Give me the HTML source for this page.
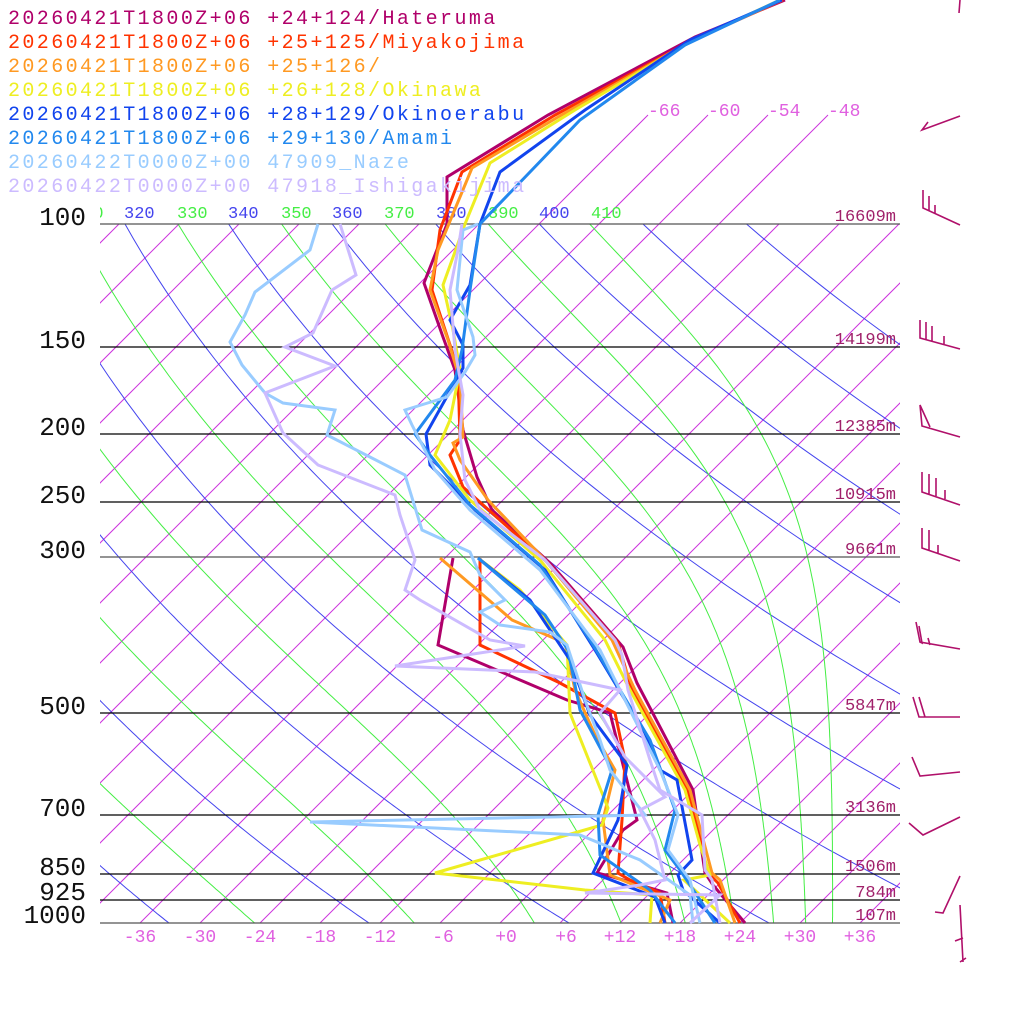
<!DOCTYPE html>
<html><head><meta charset="utf-8"><style>
html,body{margin:0;padding:0;background:#fff;}
svg{display:block;}
text{font-family:"Liberation Mono","DejaVu Sans Mono",monospace;}
</style></head><body>
<svg id="s" xmlns="http://www.w3.org/2000/svg" width="1024" height="1024" viewBox="0 0 1024 1024">
<defs><clipPath id="c"><rect x="100" y="224" width="800" height="699"/></clipPath>
<clipPath id="ct"><rect x="100" y="195" width="800" height="30"/></clipPath></defs>
<rect width="1024" height="1024" fill="#fff"/>
<g id="grid" clip-path="url(#c)"></g>
<g id="gridtop"></g>
<g fill="none" stroke-width="1.3">
<line x1="100" y1="224" x2="900" y2="224" stroke="#555"/>
<line x1="100" y1="347" x2="900" y2="347" stroke="#000"/>
<line x1="100" y1="434" x2="900" y2="434" stroke="#000"/>
<line x1="100" y1="502" x2="900" y2="502" stroke="#000"/>
<line x1="100" y1="557" x2="900" y2="557" stroke="#555"/>
<line x1="100" y1="713" x2="900" y2="713" stroke="#000"/>
<line x1="100" y1="815" x2="900" y2="815" stroke="#000"/>
<line x1="100" y1="874" x2="900" y2="874" stroke="#000"/>
<line x1="100" y1="900" x2="900" y2="900" stroke="#000"/>
<line x1="100" y1="923" x2="900" y2="923" stroke="#555"/>
</g>
<g font-size="17" clip-path="url(#ct)">
<text x="73" y="218" fill="#44ee44">310</text>
<text x="124" y="218" fill="#4444ee">320</text>
<text x="177" y="218" fill="#44ee44">330</text>
<text x="228" y="218" fill="#4444ee">340</text>
<text x="281" y="218" fill="#44ee44">350</text>
<text x="332" y="218" fill="#4444ee">360</text>
<text x="384" y="218" fill="#44ee44">370</text>
<text x="436" y="218" fill="#4444ee">380</text>
<text x="488" y="218" fill="#44ee44">390</text>
<text x="539" y="218" fill="#4444ee">400</text>
<text x="591" y="218" fill="#44ee44">410</text>
</g>
<g font-size="18" fill="#e060e0">
<text x="648" y="116">-66</text><text x="708" y="116">-60</text><text x="768" y="116">-54</text><text x="828" y="116">-48</text>
</g>
<g font-size="18" fill="#e060e0" text-anchor="middle">
<text x="140" y="942">-36</text><text x="200" y="942">-30</text><text x="260" y="942">-24</text><text x="320" y="942">-18</text>
<text x="380" y="942">-12</text><text x="443" y="942">-6</text><text x="506" y="942">+0</text><text x="566" y="942">+6</text>
<text x="620" y="942">+12</text><text x="680" y="942">+18</text><text x="740" y="942">+24</text><text x="800" y="942">+30</text><text x="860" y="942">+36</text>
</g>
<g font-size="17" fill="#a0206a" text-anchor="end">
<text x="896" y="221">16609m</text><text x="896" y="344">14199m</text><text x="896" y="431">12385m</text>
<text x="896" y="499">10915m</text><text x="896" y="554">9661m</text><text x="896" y="710">5847m</text>
<text x="896" y="812">3136m</text><text x="896" y="871">1506m</text><text x="896" y="897">784m</text><text x="896" y="920">107m</text>
</g>
<g font-size="26" fill="#111" text-anchor="end">
<text x="86" y="225">100</text><text x="86" y="348">150</text><text x="86" y="435">200</text><text x="86" y="503">250</text>
<text x="86" y="558">300</text><text x="86" y="714">500</text><text x="86" y="816">700</text><text x="86" y="875">850</text>
<text x="86" y="900">925</text><text x="86" y="923">1000</text>
</g>
<g id="prof" fill="none" stroke-width="3" stroke-linejoin="miter"></g>
<g font-size="20" letter-spacing="2.4">
<text x="8" y="24" fill="#b0006a">20260421T1800Z+06 +24+124/Hateruma</text>
<text x="8" y="48" fill="#ff3300">20260421T1800Z+06 +25+125/Miyakojima</text>
<text x="8" y="72" fill="#ff9922">20260421T1800Z+06 +25+126/</text>
<text x="8" y="96" fill="#eeee22">20260421T1800Z+06 +26+128/Okinawa</text>
<text x="8" y="120" fill="#1144ee">20260421T1800Z+06 +28+129/Okinoerabu</text>
<text x="8" y="144" fill="#2288ee">20260421T1800Z+06 +29+130/Amami</text>
<text x="8" y="168" fill="#99ccff">20260422T0000Z+00 47909_Naze</text>
<text x="8" y="192" fill="#ccbbff">20260422T0000Z+00 47918_Ishigakijima</text>
</g>
<g fill="none" stroke="#b0106a" stroke-width="1.6">
<path d="M960,0 L959,13"/>
<path d="M960,116 L922,130 L928,122"/>
<path d="M960,225 L923,208 L923,190 M929,211 L929,196 M935,213 L935,205"/>
<path d="M960,349 L920,338 L920,320 M926,340 L926,322 M932,342 L932,326 M944,345 L944,336"/>
<path d="M960,437 L922,426 L920,405 L930,427"/>
<path d="M960,505 L922,492 L922,472 M929,494 L929,474 M936,496 L936,478 M945,499 L945,490"/>
<path d="M960,561 L922,548 L922,528 M929,550 L929,530 M938,553 L938,545"/>
<path d="M960,649 L920,642 L916,622 M920,642 L922,643 L919,626 M930,645 L928,638"/>
<path d="M960,717 L919,717 L913,697 M925,717 L919,697"/>
<path d="M960,772 L920,776 L912,757"/>
<path d="M960,817 L923,835 L909,823"/>
<path d="M960,876 L943,913 L935,912"/>
<path d="M960,905 L963,962 M963,938 L955,941 M966,958 L960,962"/>
</g>
</svg>
<script>
(function(){
var NS="http://www.w3.org/2000/svg";
function X(T,y){return 500+10*T+(923-y);}
function Y(p){return 224+303.5*Math.log(p/100);}
function el(g,tag,a){var e=document.createElementNS(NS,tag);for(var k in a)e.setAttribute(k,a[k]);g.appendChild(e);return e;}
var g=document.getElementById("grid"),gt=document.getElementById("gridtop");
for(var T=-150;T<=48;T+=6){el(g,"line",{x1:X(T,923),y1:923,x2:X(T,224),y2:224,stroke:"#cc33dd","stroke-width":1});}
[-66,-60,-54,-48].forEach(function(T){el(gt,"line",{x1:X(T,224),y1:224,x2:X(T,115),y2:115,stroke:"#cc33dd","stroke-width":1});});
function poly(fn,col){var d="";for(var p=95;p<=1005;p+=5){var y=Y(p),T=fn(p);if(T===null)continue;d+=(d?"L":"M")+X(T,y).toFixed(1)+","+y.toFixed(1);}el(g,"path",{d:d,stroke:col,fill:"none","stroke-width":1});}
for(var th=200;th<=440;th+=20){(function(th){poly(function(p){return th*Math.pow(p/1000,0.2857)-273.15;},"#4444ee");})(th);}
function es(Tk){var Tc=Tk-273.15;return 6.112*Math.exp(17.67*Tc/(Tc+243.5));}
function the(Tk,p){var e=es(Tk),r=0.622*e/(p-e);return Tk*Math.pow(1000/p,0.2854*(1-0.28*r))*Math.exp((3.376/Tk-0.00254)*r*1000*(1+0.81*r));}
for(var te=230;te<=410;te+=20){(function(te){poly(function(p){var lo=120,hi=330;while(es(hi)>0.3*p)hi-=0.5;if(the(hi,p)<te)return null;for(var i=0;i<50;i++){var m=(lo+hi)/2;if(the(m,p)<te)lo=m;else hi=m;}return lo-273.15;},"#44ee44");})(te);}
var S=[
["#b0006a",[[785,0],[695,37],[548,115],[447,177],[447,224],[424,283],[443,337],[455,370],[463,430],[477,477],[492,510],[550,563],[623,647],[637,683],[693,790],[705,873],[713,885],[745,923]],
 [[453,558],[438,645],[567,700],[610,713],[620,753],[637,820],[623,830],[597,873],[613,877],[667,893],[673,923]]],
["#ff3300",[[783,0],[693,40],[555,115],[462,172],[440,230],[432,290],[450,345],[458,370],[460,440],[450,455],[463,487],[548,563],[618,643],[632,690],[688,790],[708,873],[718,883],[740,923]],
 [[480,558],[480,645],[560,683],[615,713],[625,760],[622,820],[618,873],[630,880],[660,893],[665,923]]],
["#ff9922",[[782,0],[693,40],[558,117],[472,168],[438,250],[430,290],[448,340],[460,380],[463,437],[453,443],[460,460],[488,500],[545,560],[612,640],[635,690],[690,790],[712,873],[720,880],[735,923]],
 [[440,558],[512,620],[565,643],[575,690],[595,735],[615,770],[603,820],[610,875],[670,900],[660,923]]],
["#eeee22",[[780,0],[690,42],[575,110],[490,163],[465,224],[443,285],[453,330],[460,370],[450,420],[435,455],[470,500],[540,560],[605,640],[630,690],[685,790],[700,845],[710,875],[684,880],[730,923]],
 [[478,558],[520,590],[567,645],[570,713],[608,808],[602,825],[435,873],[585,890],[652,895],[650,923]]],
["#1144ee",[[782,0],[690,40],[585,110],[500,172],[480,224],[470,285],[450,320],[463,345],[463,368],[445,400],[426,434],[430,465],[475,510],[545,570],[595,650],[645,733],[660,770],[677,780],[692,860],[678,875],[683,890],[720,923]],
 [[478,558],[530,600],[570,660],[590,715],[627,765],[618,820],[593,873],[655,897],[665,923]]],
["#2288ee",[[780,0],[685,45],[580,120],[480,224],[470,290],[462,350],[455,380],[415,434],[430,455],[470,505],[540,565],[590,640],[650,740],[675,810],[665,850],[680,870],[700,900],[715,923]],
 [[478,558],[545,615],[568,650],[580,710],[612,770],[598,815],[600,855],[650,890],[675,923]]],
["#99ccff",[[478,224],[463,230],[457,290],[473,337],[475,355],[465,372],[447,397],[405,410],[412,425],[435,470],[470,510],[540,570],[600,650],[640,730],[660,770],[678,815],[668,850],[690,880],[700,923]],
 [[318,224],[310,250],[255,292],[245,315],[230,342],[242,365],[265,393],[283,403],[335,410],[327,435],[405,475],[422,530],[470,552],[480,575],[505,600],[480,612],[500,625],[550,632],[567,645],[585,700],[600,740],[610,770],[645,815],[310,822],[580,835],[640,860],[690,895],[693,923]]],
["#ccbbff",[[462,224],[458,250],[450,290],[455,350],[463,395],[460,434],[465,480],[480,510],[545,560],[615,640],[622,655],[628,690],[650,760],[660,790],[702,815],[705,870],[712,880],[720,923]],
 [[340,224],[356,275],[332,290],[313,333],[285,347],[335,366],[265,393],[283,433],[318,465],[395,495],[400,515],[415,560],[405,590],[420,600],[490,640],[525,646],[395,666],[535,672],[620,690],[600,713],[625,757],[665,797],[640,810],[655,840],[665,880],[640,885],[585,893],[720,895],[690,923]]]
];
var gp=document.getElementById("prof");
S.forEach(function(s){[s[1],s[2]].forEach(function(pts){el(gp,"polyline",{points:pts.map(function(q){return q.join(",");}).join(" "),stroke:s[0]});});});
})();
</script>
</body></html>
